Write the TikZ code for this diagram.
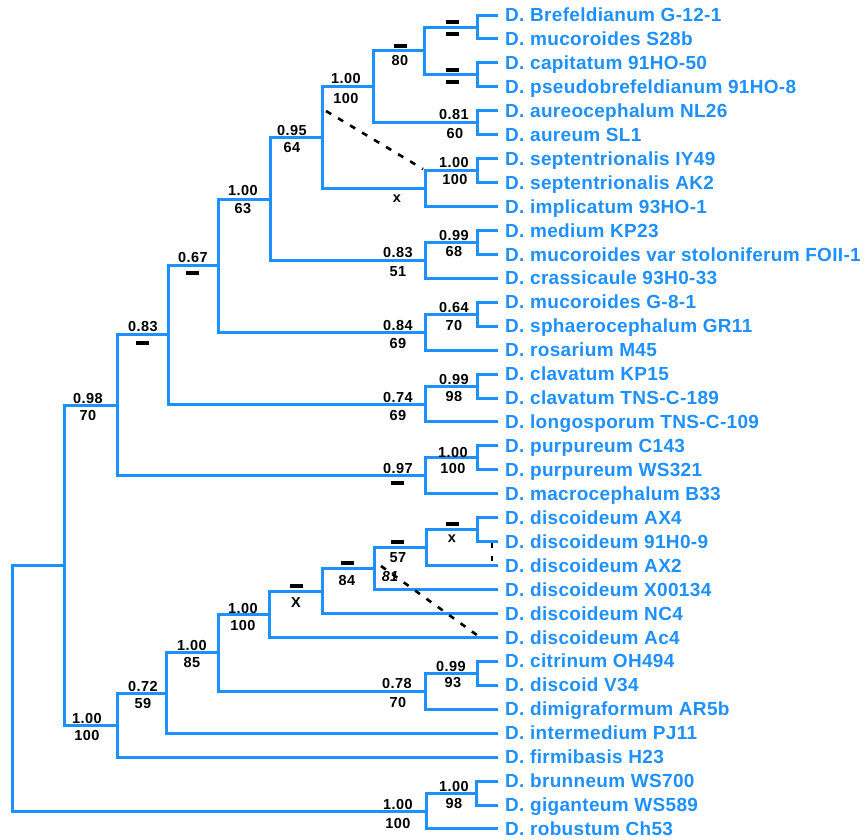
\documentclass[tikz,border=0pt]{standalone}
\usepackage{fontspec}
\setmainfont{Liberation Sans}
\definecolor{tb}{RGB}{30,144,255}
\tikzset{
  br/.style={draw=tb,line width=3pt},
  leaf/.style={anchor=base west,inner sep=0pt,text=tb,font=\bfseries\fontsize{19}{19}\selectfont\addfontfeatures{LetterSpace=1.7}},
  sl/.style={anchor=center,inner sep=0pt,text=black,font=\bfseries\fontsize{14.5}{14.5}\selectfont\addfontfeatures{LetterSpace=3}},
  slit/.style={sl,font=\bfseries\itshape\fontsize{14.5}{14.5}\selectfont},
  barm/.style={fill=black,rectangle,minimum width=13pt,minimum height=4pt,inner sep=0pt},
  dline/.style={draw=black,line width=2.6pt,dash pattern=on 6pt off 8pt},
}
\begin{document}
\begin{tikzpicture}[x=1pt,y=-1pt]
\useasboundingbox (0,0) rectangle (867,839);
% leaves
\foreach \i/\t in {0/{D. Brefeldianum G-12-1},1/{D. mucoroides S28b},2/{D. capitatum 91HO-50},3/{D. pseudobrefeldianum 91HO-8},4/{D. aureocephalum NL26},5/{D. aureum SL1},6/{D. septentrionalis IY49},7/{D. septentrionalis AK2},8/{D. implicatum 93HO-1},9/{D. medium KP23},10/{D. mucoroides var stoloniferum FOII-1},11/{D. crassicaule 93H0-33},12/{D. mucoroides G-8-1},13/{D. sphaerocephalum GR11},14/{D. rosarium M45},15/{D. clavatum KP15},16/{D. clavatum TNS-C-189},17/{D. longosporum TNS-C-109},18/{D. purpureum C143},19/{D. purpureum WS321},20/{D. macrocephalum B33},21/{D. discoideum AX4},22/{D. discoideum 91H0-9},23/{D. discoideum AX2},24/{D. discoideum X00134},25/{D. discoideum NC4},26/{D. discoideum Ac4},27/{D. citrinum OH494},28/{D. discoid V34},29/{D. dimigraformum AR5b},30/{D. intermedium PJ11},31/{D. firmibasis H23},32/{D. brunneum WS700},33/{D. giganteum WS589},34/{D. robustum Ch53}}{
  \coordinate (l\i) at (498,{15+23.94*\i});
  \node[leaf] (t\i) at (505,{15+23.94*\i+6.6}) {\t};
}
% internal nodes
\coordinate (a01) at (477,27.0);
\coordinate (a23) at (477,74.8);
\coordinate (a0123) at (424,50.9);
\coordinate (a45) at (477,122.7);
\coordinate (a05) at (373,86.8);
\coordinate (a67) at (477,170.6);
\coordinate (a68) at (425,188.6);
\coordinate (a08) at (322,137.7);
\coordinate (a910) at (477,242.4);
\coordinate (a911) at (425,260.4);
\coordinate (a011) at (270,199.0);
\coordinate (a1213) at (477,314.2);
\coordinate (a1214) at (425,332.2);
\coordinate (a014) at (218,265.6);
\coordinate (a1516) at (477,386.0);
\coordinate (a1517) at (425,404.0);
\coordinate (a017) at (168,334.8);
\coordinate (a1819) at (477,457.9);
\coordinate (a1820) at (425,475.9);
\coordinate (a020) at (117,405.3);
\coordinate (a2122) at (477,529.7);
\coordinate (a2123) at (426,547.6);
\coordinate (a2124) at (374,568.6);
\coordinate (a2125) at (322,591.1);
\coordinate (a2126) at (269,614.2);
\coordinate (a2728) at (477,673.4);
\coordinate (a2729) at (425,691.3);
\coordinate (a2129) at (218,652.8);
\coordinate (a2130) at (166,693.0);
\coordinate (a2131) at (117,725.0);
\coordinate (ain) at (64,565.2);
\coordinate (a3233) at (476,793.0);
\coordinate (a3234) at (426,811.0);
\coordinate (aroot) at (12,688.1);
% branches
\draw[br] (l0) -| (a01) |- (l1);
\draw[br] (l2) -| (a23) |- (l3);
\draw[br] (a01) -| (a0123) |- (a23);
\draw[br] (l4) -| (a45) |- (l5);
\draw[br] (a0123) -| (a05) |- (a45);
\draw[br] (l6) -| (a67) |- (l7);
\draw[br] (a67) -| (a68) |- (l8);
\draw[br] (a05) -| (a08) |- (a68);
\draw[br] (l9) -| (a910) |- (l10);
\draw[br] (a910) -| (a911) |- (l11);
\draw[br] (a08) -| (a011) |- (a911);
\draw[br] (l12) -| (a1213) |- (l13);
\draw[br] (a1213) -| (a1214) |- (l14);
\draw[br] (a011) -| (a014) |- (a1214);
\draw[br] (l15) -| (a1516) |- (l16);
\draw[br] (a1516) -| (a1517) |- (l17);
\draw[br] (a014) -| (a017) |- (a1517);
\draw[br] (l18) -| (a1819) |- (l19);
\draw[br] (a1819) -| (a1820) |- (l20);
\draw[br] (a017) -| (a020) |- (a1820);
\draw[br] (l21) -| (a2122) |- (l22);
\draw[br] (a2122) -| (a2123) |- (l23);
\draw[br] (a2123) -| (a2124) |- (l24);
\draw[br] (a2124) -| (a2125) |- (l25);
\draw[br] (a2125) -| (a2126) |- (l26);
\draw[br] (l27) -| (a2728) |- (l28);
\draw[br] (a2728) -| (a2729) |- (l29);
\draw[br] (a2126) -| (a2129) |- (a2729);
\draw[br] (a2129) -| (a2130) |- (l30);
\draw[br] (a2130) -| (a2131) |- (l31);
\draw[br] (a020) -| (ain) |- (a2131);
\draw[br] (l32) -| (a3233) |- (l33);
\draw[br] (a3233) -| (a3234) |- (l34);
\draw[br] (ain) -| (aroot) |- (a3234);
% support labels
\node[barm] (b01a) at (452,22) {};
\node[barm] (b01b) at (452,34) {};
\node[barm] (b23a) at (452,70) {};
\node[barm] (b23b) at (452,82) {};
\node[barm] (b0123) at (400,46) {};
\node[sl] (s0123) at (400,61) {80};
\node[sl] (s45a) at (454,115) {0.81};
\node[sl] (s45b) at (455,134) {60};
\node[sl] (s05a) at (346,79) {1.00};
\node[sl] (s05b) at (346,99) {100};
\node[sl] (s67a) at (454,163) {1.00};
\node[sl] (s67b) at (455,180) {100};
\node[sl] (s68) at (397,199) {x};
\node[sl] (s08a) at (292,131) {0.95};
\node[sl] (s08b) at (292,148) {64};
\node[sl] (s910a) at (454,236) {0.99};
\node[sl] (s910b) at (454,252) {68};
\node[sl] (s911a) at (398,253) {0.83};
\node[sl] (s911b) at (398,272) {51};
\node[sl] (s011a) at (243,191) {1.00};
\node[sl] (s011b) at (243,209) {63};
\node[sl] (s1213a) at (454,308) {0.64};
\node[sl] (s1213b) at (454,325) {70};
\node[sl] (s1214a) at (398,325) {0.84};
\node[sl] (s1214b) at (398,343) {69};
\node[sl] (s014) at (193,258) {0.67};
\node[barm] (b014) at (192,273) {};
\node[sl] (s1516a) at (454,379) {0.99};
\node[sl] (s1516b) at (454,396) {98};
\node[sl] (s1517a) at (398,397) {0.74};
\node[sl] (s1517b) at (398,415) {69};
\node[sl] (s017) at (143,327) {0.83};
\node[barm] (b017) at (142,343) {};
\node[sl] (s1819a) at (453,452) {1.00};
\node[sl] (s1819b) at (453,468) {100};
\node[sl] (s1820) at (398,468) {0.97};
\node[barm] (b1820) at (397,483) {};
\node[sl] (s020a) at (88,398) {0.98};
\node[sl] (s020b) at (88,415) {70};
\node[barm] (b2122) at (452,524) {};
\node[sl] (s2122) at (452,539) {x};
\node[barm] (b2123) at (397,542) {};
\node[sl] (s2123) at (398,558) {57};
\node[barm] (b2124) at (347,563) {};
\node[sl] (s2124) at (347,580) {84};
\node[slit] (s81) at (390,577) {81};
\node[barm] (b2125) at (296,586) {};
\node[sl] (s2125) at (296,602) {X};
\node[sl] (s2126a) at (243,608) {1.00};
\node[sl] (s2126b) at (243,625) {100};
\node[sl] (s2728a) at (451,666) {0.99};
\node[sl] (s2728b) at (453,683) {93};
\node[sl] (s2729a) at (397,683) {0.78};
\node[sl] (s2729b) at (398,702) {70};
\node[sl] (s2129a) at (192,645) {1.00};
\node[sl] (s2129b) at (192,662) {85};
\node[sl] (s2130a) at (143,686) {0.72};
\node[sl] (s2130b) at (143,703) {59};
\node[sl] (s2131a) at (87,718) {1.00};
\node[sl] (s2131b) at (87,735) {100};
\node[sl] (s3233a) at (454,786) {1.00};
\node[sl] (s3233b) at (454,803) {98};
\node[sl] (s3234a) at (398,804) {1.00};
\node[sl] (s3234b) at (398,823) {100};
% dashed lines
\coordinate (d1s) at (326,111);
\coordinate (d1e) at (423,169);
\coordinate (d2s) at (381,566);
\coordinate (d2e) at (481,638);
\coordinate (d3s) at (492,543);
\coordinate (d3e) at (492,562);
\draw[dline] (d1s) -- (d1e);
\draw[dline] (d2s) -- (d2e);
\draw[draw=black,line width=2.6pt,dash pattern=on 5pt off 8pt] (d3s) -- (d3e);
\end{tikzpicture}
\end{document}
